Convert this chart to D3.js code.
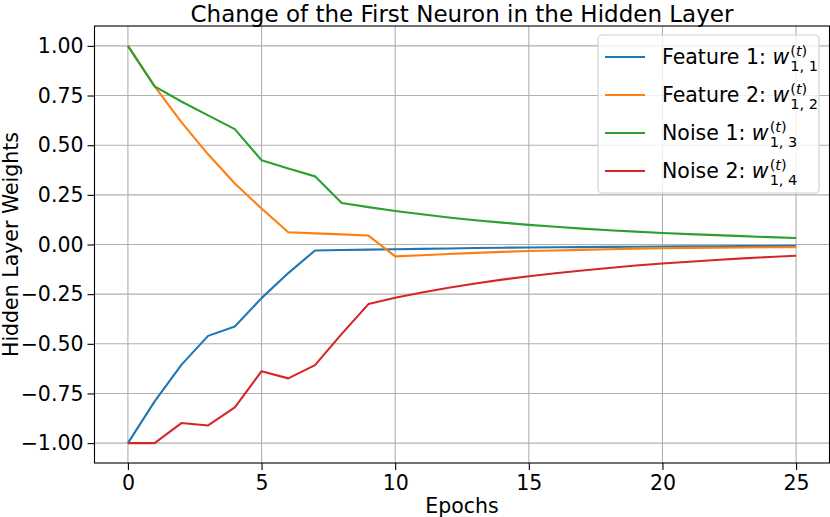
<!DOCTYPE html>
<html><head><meta charset="utf-8">
<script src="https://cdn.jsdelivr.net/npm/d3@7"></script>
<style>body{margin:0;background:#fff}svg{display:block}text{font-family:"DejaVu Sans",sans-serif}</style>
</head><body><svg id="c" width="830" height="517"></svg>
<script>
const epochs = d3.range(0, 26);
const feature1 = [-1.000,-0.790,-0.606,-0.460,-0.413,-0.270,-0.144,-0.030,-0.028,-0.026,-0.024,-0.022,-0.020,-0.018,-0.016,-0.015,-0.014,-0.013,-0.012,-0.011,-0.010,-0.009,-0.009,-0.008,-0.008,-0.007];
const feature2 = [1.000,0.796,0.616,0.454,0.307,0.181,0.062,0.056,0.051,0.045,-0.060,-0.054,-0.048,-0.042,-0.037,-0.033,-0.030,-0.027,-0.024,-0.021,-0.019,-0.017,-0.016,-0.015,-0.014,-0.013];
const noise1 = [1.000,0.796,0.720,0.650,0.581,0.424,0.382,0.343,0.209,0.188,0.169,0.152,0.136,0.122,0.110,0.099,0.089,0.080,0.072,0.065,0.058,0.052,0.047,0.042,0.037,0.033];
const noise2 = [-1.000,-1.000,-0.899,-0.911,-0.820,-0.638,-0.674,-0.607,-0.450,-0.300,-0.268,-0.242,-0.218,-0.196,-0.177,-0.160,-0.145,-0.131,-0.118,-0.106,-0.096,-0.087,-0.078,-0.070,-0.063,-0.057];
const seriesNames = ["Feature 1:", "Feature 2:", "Noise 1:", "Noise 2:"];
const subIdx = ["1, 1", "1, 2", "1, 3", "1, 4"];
const colors = ["#1f77b4", "#ff7f0e", "#2ca02c", "#d62728"];
const xTicks = [0, 5, 10, 15, 20, 25];
const yTicks = [-1.00, -0.75, -0.50, -0.25, 0.00, 0.25, 0.50, 0.75, 1.00];

const svg = d3.select("#c");
const L = 94.5, R = 829.5, T = 26, B = 463;
const x = d3.scaleLinear().domain([-1.25, 26.25]).range([L, R]);
const y = d3.scaleLinear().domain([-1.1, 1.1]).range([B, T]);
const fs = 20.5;

// grid
svg.append("g").selectAll("line").data(xTicks).join("line")
  .attr("x1", d => x(d)).attr("x2", d => x(d)).attr("y1", T).attr("y2", B)
  .attr("stroke", "#b0b0b0").attr("stroke-width", 1.1);
svg.append("g").selectAll("line").data(yTicks).join("line")
  .attr("y1", d => y(d)).attr("y2", d => y(d)).attr("x1", L).attr("x2", R)
  .attr("stroke", "#b0b0b0").attr("stroke-width", 1.1);

// axes
const xAxis = d3.axisBottom(x).tickValues(xTicks).tickSize(7).tickPadding(4).tickFormat(d3.format("d"));
const yAxis = d3.axisLeft(y).tickValues(yTicks).tickSize(7).tickPadding(4).tickFormat(d => (d < 0 ? "\u2212" : "") + Math.abs(d).toFixed(2));
const gx = svg.append("g").attr("transform", `translate(0,${B})`).call(xAxis);
const gy = svg.append("g").attr("transform", `translate(${L},0)`).call(yAxis);
[gx, gy].forEach(g => {
  g.select(".domain").remove();
  g.selectAll("text").attr("font-family", "DejaVu Sans").attr("font-size", fs).attr("fill", "#000");
  g.selectAll("line").attr("stroke", "#000").attr("stroke-width", 1.1);
});
gx.selectAll("text").attr("dy", "0.8em");

// lines
const line = d3.line().x((d, i) => x(epochs[i])).y(d => y(d));
const allSeries = [feature1, feature2, noise1, noise2];
svg.append("g").selectAll("path").data(allSeries).join("path")
  .attr("d", d => line(d)).attr("fill", "none")
  .attr("stroke", (d, i) => colors[i]).attr("stroke-width", 2.1).attr("stroke-linejoin", "round");

// frame
svg.append("rect").attr("x", L).attr("y", T).attr("width", R - L).attr("height", B - T)
  .attr("fill", "none").attr("stroke", "#000").attr("stroke-width", 1.1);

// title and labels
svg.append("text").attr("x", (L + R) / 2).attr("y", 21.5).attr("text-anchor", "middle")
  .attr("font-size", 23).text("Change of the First Neuron in the Hidden Layer");
svg.append("text").attr("x", (L + R) / 2).attr("y", 513).attr("text-anchor", "middle")
  .attr("font-size", fs).text("Epochs");
svg.append("text").attr("transform", `translate(17.5,${(T + B) / 2}) rotate(-90)`).attr("text-anchor", "middle")
  .attr("font-size", fs).text("Hidden Layer Weights");

// legend
const lg = svg.append("g");
lg.append("rect").attr("x", 598).attr("y", 35).attr("width", 221).attr("height", 158).attr("rx", 4)
  .attr("fill", "#fff").attr("fill-opacity", 0.8).attr("stroke", "#d0d0d0").attr("stroke-width", 1.1);
const rowY = [57, 95, 133, 171];
const sfs = 14.5;
seriesNames.forEach((name, i) => {
  const ry = rowY[i];
  lg.append("line").attr("x1", 605).attr("x2", 645).attr("y1", ry).attr("y2", ry)
    .attr("stroke", colors[i]).attr("stroke-width", 2.1);
  const t = lg.append("text").attr("x", 662).attr("y", ry + 7).attr("font-size", fs).text(name + "\u00a0");
  const w0 = t.node().getComputedTextLength();
  const wt = lg.append("text").attr("x", 662 + w0).attr("y", ry + 7).attr("font-size", fs)
    .attr("font-style", "italic").text("w");
  const ww = wt.node().getComputedTextLength();
  const sx = 662 + w0 + ww + 1;
  const sup = lg.append("text").attr("x", sx).attr("y", ry - 1).attr("font-size", sfs);
  sup.append("tspan").text("(");
  sup.append("tspan").attr("font-style", "italic").text("t");
  sup.append("tspan").text(")");
  lg.append("text").attr("x", sx).attr("y", ry + 14).attr("font-size", sfs).text(subIdx[i]);
});
</script></body></html>
